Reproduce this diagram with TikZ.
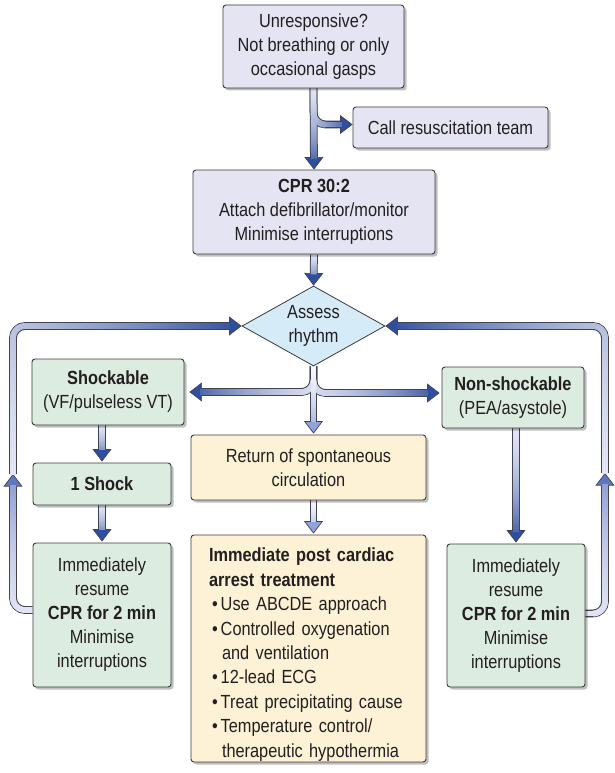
\documentclass[tikz,border=0pt]{standalone}
\usepackage{fontspec}
\setmainfont{Liberation Sans}[FakeStretch=0.86]
\usetikzlibrary{shapes.geometric,arrows.meta,shadows,decorations.markings}
\pgfdeclarelayer{bg}
\pgfsetlayers{bg,main}
\definecolor{lav}{HTML}{E4E4F2}
\definecolor{diafill}{HTML}{D5ECF8}
\definecolor{grn}{HTML}{DCECE0}
\definecolor{ylw}{HTML}{FDF2D5}
\definecolor{edge}{HTML}{3A3A3A}
\definecolor{txt}{HTML}{231F20}
\definecolor{pale}{HTML}{E2E5F5}
\definecolor{deep}{HTML}{2E4E9E}
\definecolor{midb}{HTML}{8597CF}
\definecolor{midtip}{HTML}{5E78C0}
\definecolor{soft}{HTML}{90A4DA}
\definecolor{whitish}{HTML}{F6F7FC}
\definecolor{tubeline}{HTML}{43434F}
\tikzset{
  nbox/.style={draw=edge, line width=0.9pt, rounded corners=3pt, inner sep=0pt,
    align=center, text=txt, font=\fontsize{19}{24}\selectfont,
    drop shadow={shadow xshift=2.5pt, shadow yshift=-2.5pt, opacity=0.25, fill=black}},
  lavbox/.style={nbox, fill=lav},
  grnbox/.style={nbox, fill=grn},
  ylwbox/.style={nbox, fill=ylw},
  diabox/.style={diamond, draw=edge, line width=0.8pt, fill=diafill, aspect=1.79,
    inner sep=0pt, align=center, text=txt, font=\fontsize{19}{24}\selectfont},
}
% #1 gap (pt), #2 start colour, #3 end colour, #4 tip colour, #5 path
\newcommand\tubeouter[5]{%
  \draw[line width=7.8pt, draw=tubeline, rounded corners=12pt, shorten >=#1pt,
    -{Triangle[width=19pt,length=12.5pt,line width=0.7pt,fill=#4]}] #5;}
\newcommand\tubeinner[5]{%
  \pgfmathsetmacro\tubestop{-(#1+11.5)}%
  \path[rounded corners=12pt, decorate, decoration={markings,
    mark=between positions 0 and \tubestop pt step 0.8pt with {%
      \pgfmathsetmacro\rr{\pgfkeysvalueof{/pgf/decoration/mark info/distance from start}/\pgfdecoratedpathlength}%
      \pgfmathtruncatemacro\pct{100*(0.35*\rr+0.65*\rr*\rr)}%
      \fill[sharp corners, #3!\pct!#2] (-0.7pt,-2.9pt) rectangle (0.7pt,2.9pt);}}] #5;}
\newcommand\allconn{%
  \mytube{0}{pale}{deep}{deep}{(top.south) -- (cpr.north)}
  \mytube{0}{pale}{deep}{deep}{(top.south) |- ([yshift=3pt]call.west)}
  \mytube{0}{pale}{deep}{deep}{(cpr.south) -- (dia.north)}
  \mytube{5}{pale}{deep}{deep}{(dia.south) |- (shock.east)}
  \mytube{2}{pale}{deep}{deep}{(dia.south) |- ([yshift=4.5pt]nonshock.west)}
  \mytube{1}{whitish}{soft}{soft}{(dia.south) -- (dia.south |- rosc.north)}
  \mytube{1}{whitish}{soft}{soft}{(dia.south |- rosc.south) -- (dia.south |- post.north)}
  \mytube{1}{pale}{deep}{deep}{(one.north |- shock.south) -- (one.north)}
  \mytube{1}{pale}{deep}{deep}{(one.south) -- (limm.north)}
  \mytube{1}{pale}{deep}{deep}{(rimm.north |- nonshock.south) -- (rimm.north)}
  \mytube{0}{pale}{midb}{midtip}{([yshift=5pt]limm.west) -| (lmid)}
  \mytube{0}{pale}{deep}{deep}{(lmid) |- (dia.west)}
  \mytube{0}{pale}{midb}{midtip}{([yshift=2pt]rimm.east) -| (rmid)}
  \mytube{0}{pale}{deep}{deep}{(rmid) |- (dia.east)}
}
\begin{document}
\begin{tikzpicture}[x=1pt, y=-1pt]
\path[use as bounding box] (0,0) rectangle (614,773);
\begin{pgfonlayer}{bg}
\fill[white] (0,0) rectangle (614,773);
\end{pgfonlayer}

\node[lavbox, minimum width=181pt, minimum height=83pt] (top) at (313.5,46.5)
  {Unresponsive?\\Not breathing or only\\occasional gasps};
\node[lavbox, minimum width=195pt, minimum height=41pt] (call) at (450.5,127.5)
  {Call resuscitation team};
\node[lavbox, minimum width=242pt, minimum height=84pt] (cpr) at (314,212)
  {\textbf{CPR 30:2}\\Attach defibrillator/monitor\\Minimise interruptions};
\node[diabox, minimum width=143pt, minimum height=80pt] (dia) at (313.5,326)
  {Assess\\rhythm};
\node[grnbox, minimum width=152pt, minimum height=66pt] (shock) at (108,392)
  {\textbf{Shockable}\\(VF/pulseless VT)};
\node[grnbox, minimum width=138pt, minimum height=42pt] (one) at (102,484)
  {\textbf{1 Shock}};
\node[grnbox, minimum width=138pt, minimum height=144pt] (limm) at (102,615)
  {Immediately\\resume\\\textbf{CPR for 2 min}\\Minimise\\interruptions};
\node[grnbox, minimum width=142pt, minimum height=61pt] (nonshock) at (513,397.5)
  {\textbf{Non-shockable}\\(PEA/asystole)};
\node[grnbox, minimum width=138pt, minimum height=143pt] (rimm) at (516,615.5)
  {Immediately\\resume\\\textbf{CPR for 2 min}\\Minimise\\interruptions};
\node[ylwbox, minimum width=235pt, minimum height=65pt] (rosc) at (308.5,467.5)
  {Return of spontaneous\\circulation};
\node[ylwbox, minimum width=235pt, minimum height=227pt, text width=199pt, align=left,
  font=\fontsize{19}{24.4}\selectfont] (post) at (308.5,648.5)
  {\rule{0pt}{26pt}\textbf{Immediate post cardiac}\\
   \textbf{arrest treatment}\\
   \hspace*{3pt}•\hspace{3pt}Use ABCDE approach\\
   \hspace*{3pt}•\hspace{3pt}Controlled oxygenation\\
   \hspace*{13pt}and ventilation\\
   \hspace*{3pt}•\hspace{3pt}12-lead ECG\\
   \hspace*{3pt}•\hspace{3pt}Treat precipitating cause\\
   \hspace*{3pt}•\hspace{3pt}Temperature control/\\
   \hspace*{13pt}therapeutic hypothermia};

\coordinate (lmid) at (13,474);
\coordinate (rmid) at (605,473);

\begin{pgfonlayer}{bg}
\let\mytube\tubeouter
\allconn
\let\mytube\tubeinner
\allconn
\end{pgfonlayer}
\end{tikzpicture}
\end{document}
